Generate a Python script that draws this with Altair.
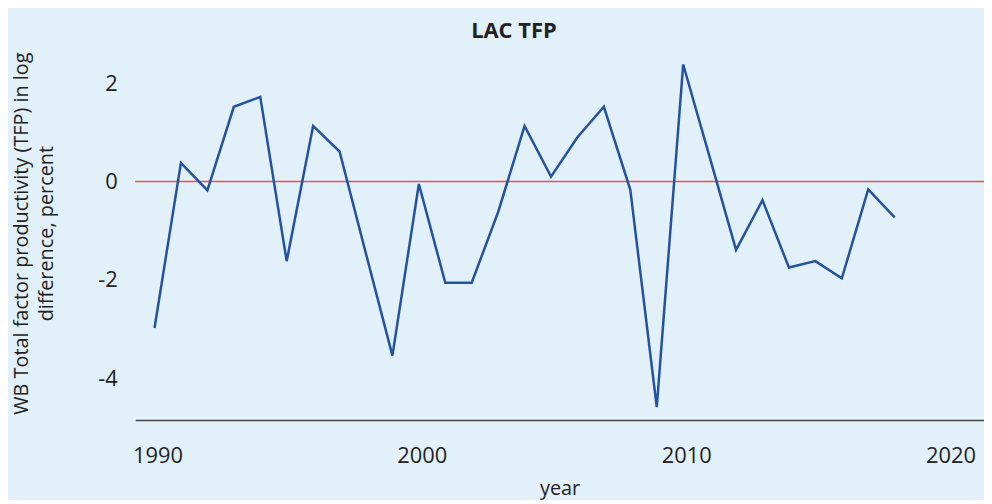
import altair as alt
import pandas as pd

years = list(range(1990, 2019))
tfp = [-2.98, 0.38, -0.18, 1.52, 1.72, -1.62, 1.13, 0.61, -1.47, -3.54,
       -0.05, -2.06, -2.06, -0.62, 1.13, 0.10, 0.90, 1.52, -0.17, -4.59,
       2.38, 0.50, -1.39, -0.38, -1.75, -1.62, -1.97, -0.16, -0.73]
x_ticks = [1990, 2000, 2010, 2020]
y_ticks = [2, 0, -2, -4]
ref_level = [0]

df = pd.DataFrame({"year": years, "tfp": tfp})
ref_df = pd.DataFrame({"tfp": ref_level})

FONT = "Open Sans"
TXT = "#222222"

xscale = alt.Scale(domain=[1989.27, 2021.38], nice=False, zero=False)
yscale = alt.Scale(domain=[-4.85, 2.75], nice=False, zero=False)

line = alt.Chart(df).mark_line(color="#2451a0", strokeWidth=2.5).encode(
    x=alt.X("year:Q", scale=xscale,
            axis=alt.Axis(values=x_ticks, format="d", title="year",
                          ticks=False, grid=False, domain=True,
                          domainColor="#444444", domainWidth=1.5,
                          labelFontSize=22, labelPadding=26, labelOffset=3,
                          labelColor=TXT, labelFont=FONT,
                          titleFont=FONT, titleFontSize=20, titleColor=TXT,
                          titleFontWeight="normal", titlePadding=12)),
    y=alt.Y("tfp:Q", scale=yscale,
            axis=alt.Axis(values=y_ticks, labelExpr="'' + datum.value",
                          title=["WB Total factor productivity (TFP) in log",
                                 "difference, percent"],
                          ticks=False, grid=False, domain=False,
                          labelFontSize=22, labelPadding=18,
                          labelColor=TXT, labelFont=FONT,
                          titleFont=FONT, titleFontSize=20, titleColor=TXT,
                          titleFontWeight="normal", titlePadding=42,
                          titleLineHeight=25)),
)

zero = alt.Chart(ref_df).mark_rule(color="#e8505b", strokeWidth=1.5).encode(
    y=alt.Y("tfp:Q", scale=yscale)
)

chart = alt.layer(zero, line).properties(
    width=854,
    height=376,
    title=alt.TitleParams("LAC TFP", font=FONT, fontSize=22, fontWeight="bold",
                          color=TXT, dx=-46, dy=22, offset=8, baseline="alphabetic"),
    autosize=alt.AutoSizeParams(type="none"),
    padding={"left": 128, "top": 37, "right": 0, "bottom": 79},
    background="#e2f0fa",
).configure_view(stroke=None)

chart.save("out.html", embed_options={"renderer": "svg", "actions": False})
